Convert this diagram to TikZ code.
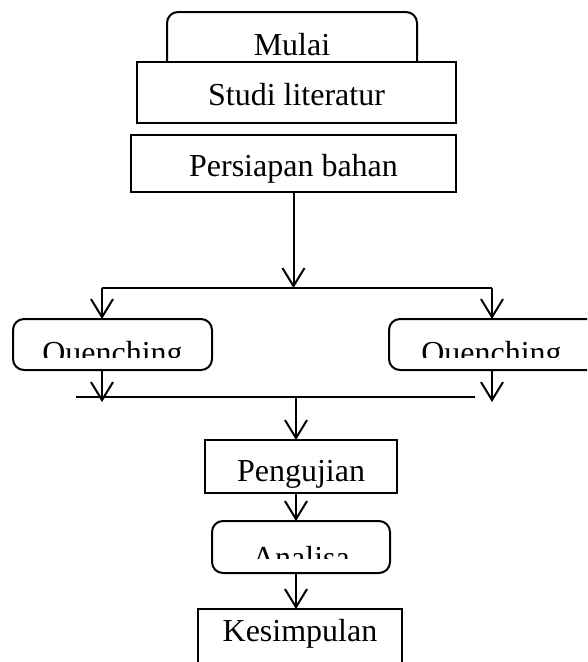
\documentclass[tikz,border=0pt]{standalone}
\usepackage{fontspec}
\setmainfont{Liberation Serif}
\usetikzlibrary{arrows.meta}

\tikzset{
  box/.style={draw, line width=2pt, fill=white, inner sep=0pt, outer sep=0pt, text depth=0pt, text height=25pt},
  rbox/.style={box, rounded corners=11pt},
  plain/.style={draw=none, fill=none, inner sep=0pt, minimum size=0pt, rounded corners=0pt, text depth=0pt},
  cuttext/.style n args={4}{path picture={
    \clip (path picture bounding box.north west) rectangle ([yshift=#2]path picture bounding box.south east);
    \node[plain, text height=#1, xshift=#4] at (path picture bounding box.center) {#3};}},
  line/.style={line width=2pt},
  arr/.style={line width=2pt, -{Straight Barb[length=18pt, width=22pt, line width=2pt]}}
}

\begin{document}
\begin{tikzpicture}[x=1pt, y=-1pt, font=\fontsize{32}{38}\selectfont]
\clip (0,0) rectangle (587,662);
% start and first steps:
\node[rbox, minimum width=250pt, minimum height=61pt] (mulai) at (292,42.5) {Mulai};
\node[box, minimum width=319pt, minimum height=61pt] (studi) at (296.5,92.5) {Studi literatur};
\node[box, minimum width=325pt, minimum height=57pt] (pb) at (293.5,163.5) {Persiapan bahan};
% the two quenching branches:
\node[rbox, minimum width=199pt, minimum height=51pt, cuttext={37pt}{13pt}{Quenching}{0pt}] (q1) at (112.5,344.5) {};
\node[rbox, minimum width=230pt, minimum height=51pt, cuttext={37pt}{13pt}{Quenching}{-12.5pt}] (q2) at (504,344.5) {};
% last steps:
\node[box, minimum width=192pt, minimum height=53pt, text height=29pt] (pg) at (301,466.5) {Pengujian};
\node[rbox, minimum width=178pt, minimum height=52pt, cuttext={42pt}{15pt}{Analisa}{0pt}] (an) at (301,547) {};
\node[box, minimum width=204pt, minimum height=72pt, text height=0pt, text depth=8pt] (ks) at (300,645) {Kesimpulan};
% connectors:
\coordinate (sl) at (102,288);
\coordinate (sr) at (492,288);
\coordinate (jl) at (76,397);
\coordinate (jr) at (475,397);
\coordinate (jm) at (296,397);
\draw[arr] (pb.south) -- (pb.south |- sl);
\draw[line] (sl) -- (sr);
\draw[arr] (sl) -- (sl |- q1.north);
\draw[arr] (sr) -- (sr |- q2.north);
\draw[line] (jl) -- (jr);
\draw[arr, shorten >=-5pt] (sl |- q1.south) -- (sl |- jl);
\draw[arr, shorten >=-5pt] (sr |- q2.south) -- (sr |- jl);
\draw[arr] (jm) -- (jm |- pg.north);
\draw[arr] (jm |- pg.south) -- (jm |- an.north);
\draw[arr] (jm |- an.south) -- (jm |- ks.north);
\end{tikzpicture}
\end{document}
